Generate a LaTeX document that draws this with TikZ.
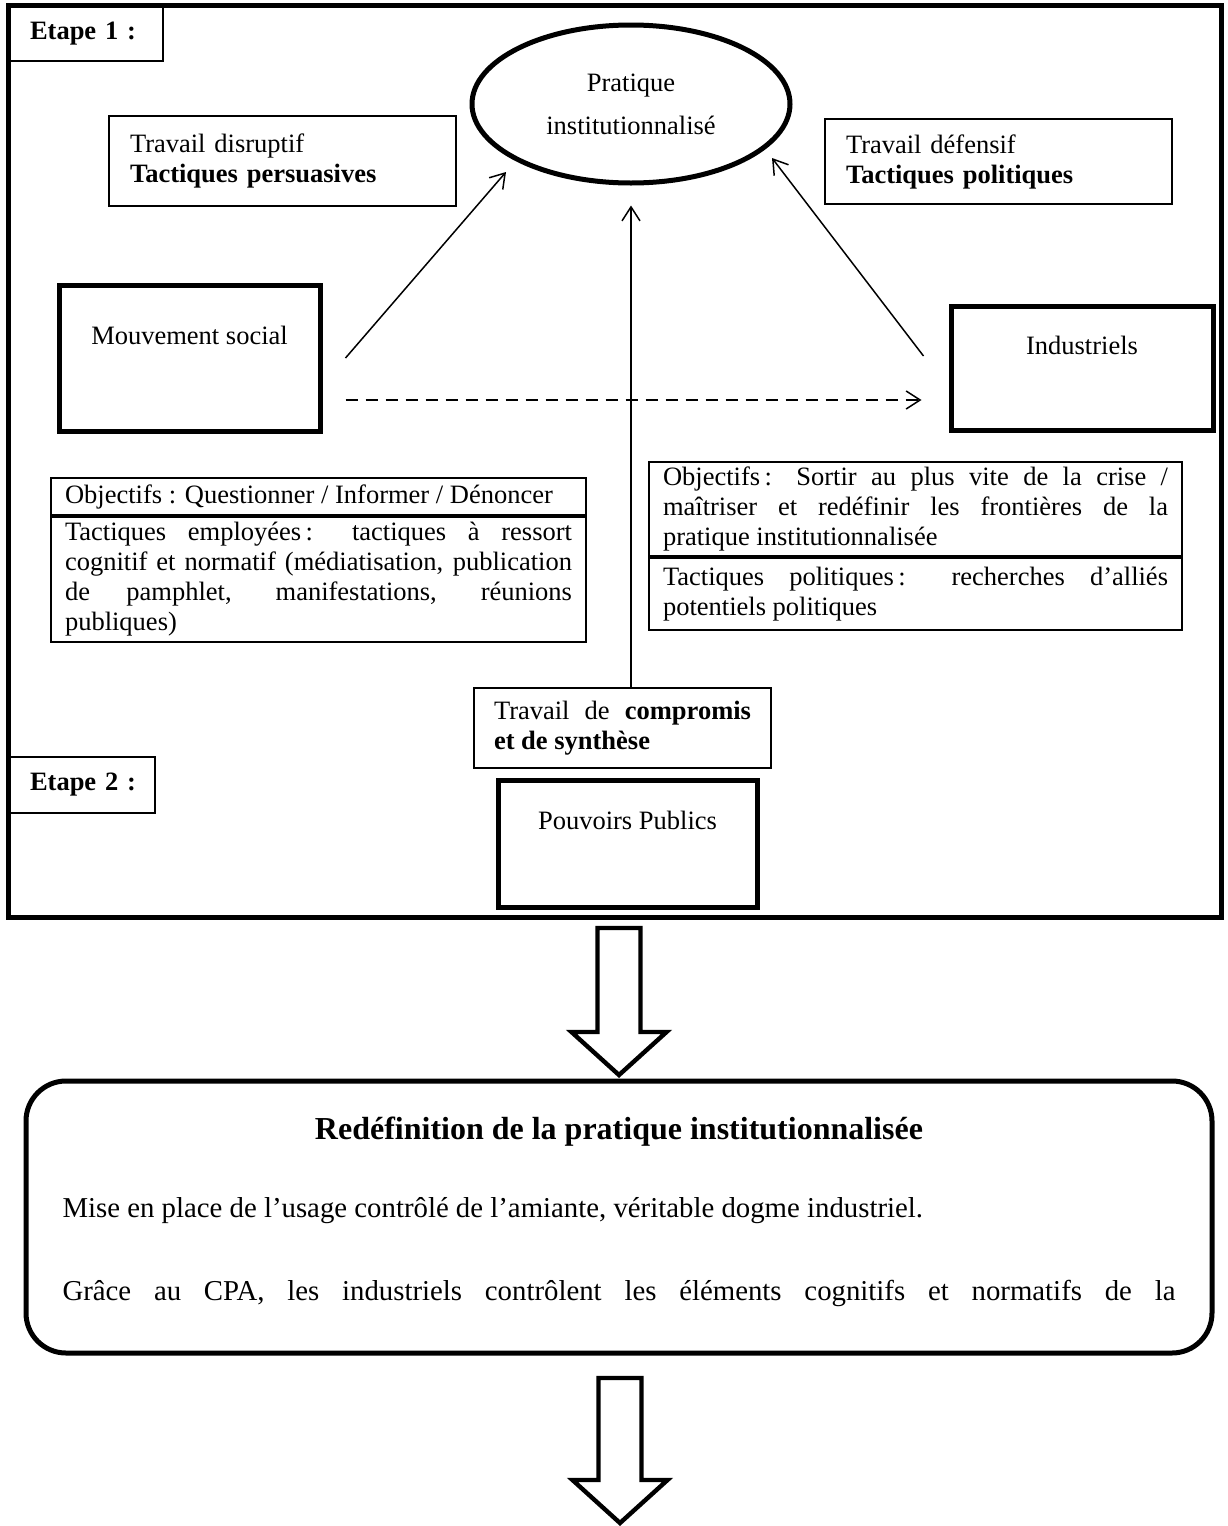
\documentclass[tikz,border=0pt]{standalone}
\usepackage{fontspec}
\setmainfont{Liberation Serif}
\usepackage{tikz}
\usetikzlibrary{calc,shapes,arrows.meta,positioning}
\tikzstyle{thinbox}=[rectangle,draw=black,line width=0.9pt,inner sep=0pt]
\tikzstyle{thickbox}=[rectangle,draw=black,line width=2.5pt,inner sep=0pt]
\tikzstyle{acteur}=[thickbox,text height=9pt,text depth=23pt]
\tikzstyle{etape}=[thinbox,align=left,font=\fontsize{13.25}{15}\selectfont\bfseries]
\tikzstyle{cadretexte}=[thinbox,inner xsep=7pt,align=justify]
\tikzstyle{fleche}=[-{Straight Barb[length=7pt,width=9pt]},line width=0.75pt]
\tikzstyle{grosse}=[line width=2.2pt,line join=miter]
\newcommand\grandtexte{\fontsize{14.4}{17}\selectfont}
\newcommand\grossefleche[2]{%
  \draw[grosse] ($(#1)+(-21.5,0)$) -- ($(#2)+(-21.5,-43)$) -- ($(#2)+(-47.5,-43)$)
    -- (#2) -- ($(#2)+(47.5,-43)$) -- ($(#2)+(21.5,-43)$) -- ($(#1)+(21.5,0)$) -- cycle;}

\begin{document}
\begin{tikzpicture}[x=0.5pt,y=-0.5pt,font=\fontsize{13.25}{15}\selectfont]
    \useasboundingbox (0,0) rectangle (1227,1526);

    % etape 1
    \node [thickbox,minimum width=606.5pt,minimum height=456pt] (cadre) at (614.5,461) {};
    \node [etape,inner xsep=10pt,text width=56.5pt,minimum height=27pt] (etape1) at (86.5,34) {\mbox{Etape 1 :}};
    \node [etape,inner xsep=10pt,text width=52.5pt,minimum height=28pt] (etape2) at (82.5,785) {\mbox{Etape 2 :}};

    \node [ellipse,draw,line width=2.5pt,minimum width=159pt,minimum height=79pt,
           inner sep=0pt,align=center] (pratique) at (631,104) {Pratique\\[6.5pt]institutionnalisé};

    \node [thinbox,minimum height=45pt,inner xsep=10.5pt,text width=152.5pt,align=left]
        (disruptif) at (282.5,161) {Travail disruptif\\\textbf{Tactiques persuasives}};
    \node [thinbox,minimum height=42.5pt,inner xsep=10.5pt,text width=152.5pt,align=left]
        (defensif) at (998.5,161.5) {Travail défensif\\\textbf{Tactiques politiques}};

    \node [acteur,minimum width=130.5pt,minimum height=73pt] (mouvement) at (189.5,358) {Mouvement social};
    \node [acteur,minimum width=131pt,minimum height=62pt] (industriels) at (1082,368) {Industriels};
    \node [acteur,minimum width=129.5pt,minimum height=63.5pt] (pouvoirs) at (627.5,843.5) {Pouvoirs Publics};

    % objectifs
    \node [cadretexte,text width=253.5pt,minimum height=18.5pt] (objgauche) at (318.5,496.5)
        {Objectifs : Questionner / Informer / Dénoncer};
    \node [cadretexte,text width=253.5pt,minimum height=62.5pt,anchor=north] (tacgauche) at (objgauche.south)
        {Tactiques employées\,: tactiques à ressort\linebreak
         cognitif et normatif (médiatisation, publication\linebreak
         de pamphlet, manifestations, réunions\linebreak publiques)};
    \node [cadretexte,text width=252.5pt,minimum height=47pt] (objdroite) at (915.5,509)
        {Objectifs\,: Sortir au plus vite de la crise /\linebreak
         maîtriser et redéfinir les frontières de la\linebreak pratique institutionnalisée};
    \node [cadretexte,text width=252.5pt,minimum height=36pt,anchor=north] (tacdroite) at (objdroite.south)
        {Tactiques politiques\,: recherches d’alliés\linebreak potentiels politiques};

    \node [cadretexte,inner xsep=10pt,text width=128.5pt,minimum height=40pt] (compromis) at (622.5,728)
        {Travail de \textbf{compromis}\linebreak \textbf{et de synthèse}};

    \draw[fleche] ([shift={(23,0)}]mouvement.east) -- ([shift={(-125,68)}]pratique.center);
    \draw[fleche] ([shift={(-25,-12)}]industriels.west) -- ([shift={(141,54)}]pratique.center);
    \draw[fleche,dash pattern=on 6pt off 4pt] ([shift={(23,42)}]mouvement.east)
        -- ([shift={(-27,32)}]industriels.west);
    \draw[fleche] (pratique.center |- compromis.north) -- ([shift={(0,20)}]pratique.south);

    % redefinition
    \node [draw,line width=2.5pt,rounded corners=20pt,minimum width=593pt,minimum height=136pt,
           inner xsep=18.25pt,inner ysep=0pt,font=\grandtexte] (redef) at (619,1217)
        {\parbox{556.5pt}{%
         {\centering\fontsize{16}{18}\selectfont\textbf{Redéfinition de la pratique institutionnalisée}\par}
         \vspace{22pt}
         Mise en place de l’usage contrôlé de l’amiante, véritable dogme industriel.\par
         \vspace{24.5pt}
         {\parfillskip=0pt Grâce au CPA, les industriels contrôlent les éléments cognitifs et normatifs de la\par}
         \vspace*{5pt}}};

    \coordinate (f1haut) at (619,928);
    \coordinate (f1bas) at (619,1075);
    \coordinate (f2haut) at (620,1378);
    \coordinate (f2bas) at (620,1523);
    \grossefleche{f1haut}{f1bas}
    \grossefleche{f2haut}{f2bas}
\end{tikzpicture}
\end{document}
